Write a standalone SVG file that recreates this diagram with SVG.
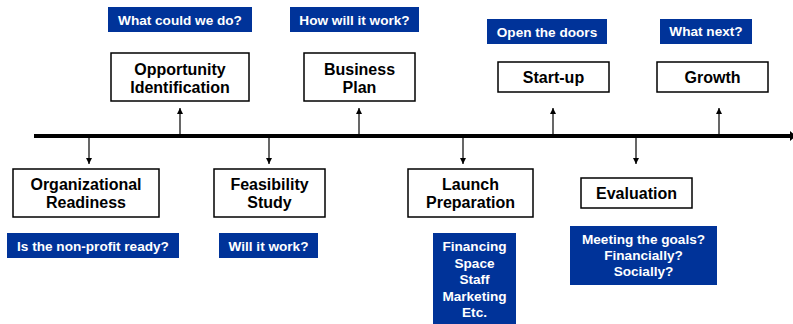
<svg xmlns="http://www.w3.org/2000/svg" width="793" height="324" viewBox="0 0 793 324">
  <style>
    .box { fill: #ffffff; stroke: #000000; stroke-width: 1.5; }
    .tag { fill: #003399; }
    .t { font-family: "Liberation Sans", Arial, sans-serif; font-weight: bold; font-size: 16px; fill: #000000; text-anchor: middle; }
    .q { font-family: "Liberation Sans", Arial, sans-serif; font-weight: bold; font-size: 13.6px; fill: #ffffff; text-anchor: middle; }
    .link { stroke: #000000; stroke-width: 1.2; fill: none; }
    .axis { stroke: #000000; stroke-width: 4; fill: none; }
  </style>
  <defs>
    <marker id="tip" viewBox="0 0 10 10" refX="10" refY="5" markerWidth="6" markerHeight="6" markerUnits="userSpaceOnUse" orient="auto">
      <path d="M0,0 L10,5 L0,10 Z" fill="#000000"/>
    </marker>
  </defs>
  <rect width="793" height="324" fill="#ffffff"/>

  <!-- timeline and stage arrows -->
  <g id="connectors">
    <line class="axis" x1="34" y1="136" x2="790" y2="136"/>
    <path d="M790,131 L796,136 L790,141 Z" fill="#000000"/>
    <line class="link" x1="180" y1="136" x2="180" y2="108" marker-end="url(#tip)"/>
    <line class="link" x1="359" y1="136" x2="359" y2="108" marker-end="url(#tip)"/>
    <line class="link" x1="553" y1="136" x2="553" y2="108" marker-end="url(#tip)"/>
    <line class="link" x1="719" y1="136" x2="719" y2="108" marker-end="url(#tip)"/>
    <line class="link" x1="89" y1="136" x2="89" y2="164" marker-end="url(#tip)"/>
    <line class="link" x1="269" y1="136" x2="269" y2="164" marker-end="url(#tip)"/>
    <line class="link" x1="463" y1="136" x2="463" y2="164" marker-end="url(#tip)"/>
    <line class="link" x1="636" y1="136" x2="636" y2="164" marker-end="url(#tip)"/>
  </g>

  <!-- stages above the line -->
  <g id="opportunity">
    <rect class="tag" x="108" y="7" width="144" height="25"/>
    <text class="q" x="180" y="25">What could we do?</text>
    <rect class="box" x="111" y="53" width="138" height="48"/>
    <text class="t" x="180" y="75">Opportunity</text>
    <text class="t" x="180" y="93">Identification</text>
  </g>
  <g id="business-plan">
    <rect class="tag" x="290" y="7" width="129" height="25"/>
    <text class="q" x="354.5" y="25">How will it work?</text>
    <rect class="box" x="304" y="53" width="111" height="48"/>
    <text class="t" x="359.5" y="75">Business</text>
    <text class="t" x="359.5" y="93">Plan</text>
  </g>
  <g id="start-up">
    <rect class="tag" x="487" y="19" width="120" height="25"/>
    <text class="q" x="547" y="37">Open the doors</text>
    <rect class="box" x="498" y="62" width="111" height="30"/>
    <text class="t" x="553.5" y="83">Start-up</text>
  </g>
  <g id="growth">
    <rect class="tag" x="660" y="19" width="92" height="25"/>
    <text class="q" x="706" y="36">What next?</text>
    <rect class="box" x="657" y="62" width="111" height="30"/>
    <text class="t" x="712.5" y="83">Growth</text>
  </g>

  <!-- stages below the line -->
  <g id="readiness">
    <rect class="box" x="13" y="169" width="146" height="48"/>
    <text class="t" x="86" y="190">Organizational</text>
    <text class="t" x="86" y="208">Readiness</text>
    <rect class="tag" x="7" y="233" width="172" height="25"/>
    <text class="q" x="93" y="251">Is the non-profit ready?</text>
  </g>
  <g id="feasibility">
    <rect class="box" x="214" y="169" width="111" height="48"/>
    <text class="t" x="269.5" y="190">Feasibility</text>
    <text class="t" x="269.5" y="208">Study</text>
    <rect class="tag" x="219" y="233" width="99" height="25"/>
    <text class="q" x="268.5" y="251">Will it work?</text>
  </g>
  <g id="launch">
    <rect class="box" x="408" y="169" width="125" height="48"/>
    <text class="t" x="470.5" y="190">Launch</text>
    <text class="t" x="470.5" y="208">Preparation</text>
    <rect class="tag" x="433" y="233" width="83" height="91"/>
    <text class="q" x="474.5" y="251">Financing</text>
    <text class="q" x="474.5" y="268">Space</text>
    <text class="q" x="474.5" y="284">Staff</text>
    <text class="q" x="474.5" y="301">Marketing</text>
    <text class="q" x="474.5" y="317">Etc.</text>
  </g>
  <g id="evaluation">
    <rect class="box" x="581" y="178" width="111" height="30"/>
    <text class="t" x="636.5" y="199">Evaluation</text>
    <rect class="tag" x="570" y="226" width="147" height="59"/>
    <text class="q" x="643.5" y="244">Meeting the goals?</text>
    <text class="q" x="643.5" y="260">Financially?</text>
    <text class="q" x="643.5" y="276">Socially?</text>
  </g>
</svg>
